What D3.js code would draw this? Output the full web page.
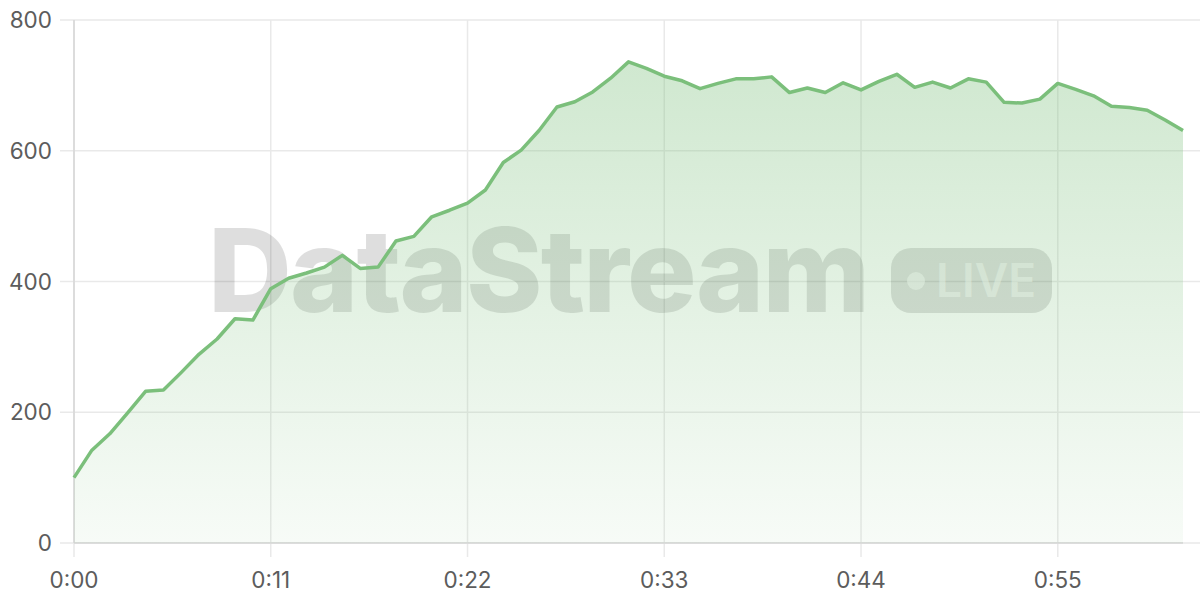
<!DOCTYPE html>
<html lang="en">
<head>
<meta charset="utf-8">
<title>DataStream live</title>
<script src="https://cdn.jsdelivr.net/npm/d3@7"></script>
<style>
    html, body { margin: 0; padding: 0; background: #fff; }
    svg text { font-family: Inter, "Noto Sans", sans-serif; }
</style>
</head>
<body>
<script>
// one sample per second, 0:00 .. 1:02
var values = [100, 142, 167, 199, 232, 234, 261, 289, 312, 343, 341,
    389, 405, 413, 422, 440, 420, 422, 462, 469, 499, 509,
    520, 540, 582, 601, 631, 667, 675, 690, 711, 736, 726,
    714, 707, 695, 703, 710, 710, 713, 689, 696, 689, 704,
    693, 706, 717, 697, 705, 696, 710, 705, 674, 673, 679,
    703, 694, 684, 668, 666, 662, 647, 631];
var seconds = values.map((d, i) => i);
var xTicks = [0, 11, 22, 33, 44, 55];
var yTicks = [0, 200, 400, 600, 800];

var width = 1200, height = 600;
var margin = { top: 20, right: 17, bottom: 57, left: 74 };
var lineColor = "#7bbf7b";

var svg = d3.select("body").append("svg")
    .attr("width", width)
    .attr("height", height);

var x = d3.scaleLinear()
    .domain([0, d3.max(seconds)])
    .range([margin.left, width - margin.right]);
var y = d3.scaleLinear()
    .domain([0, 800])
    .range([height - margin.bottom, margin.top]);

var grad = svg.append("defs").append("linearGradient")
    .attr("id", "fillGrad")
    .attr("x1", 0).attr("x2", 0)
    .attr("gradientUnits", "userSpaceOnUse")
    .attr("y1", y(740)).attr("y2", y(0));
grad.append("stop").attr("offset", "0%").attr("stop-color", lineColor).attr("stop-opacity", 0.36);
grad.append("stop").attr("offset", "100%").attr("stop-color", lineColor).attr("stop-opacity", 0.06);

// horizontal grid
svg.append("g")
    .selectAll("line")
    .data(yTicks)
    .join("line")
    .attr("x1", margin.left - 14)
    .attr("x2", width)
    .attr("y1", d => y(d))
    .attr("y2", d => y(d))
    .attr("stroke", "#e9e9e9")
    .attr("stroke-width", 1.5);

// vertical grid
svg.append("g")
    .selectAll("line")
    .data(xTicks)
    .join("line")
    .attr("x1", d => x(d))
    .attr("x2", d => x(d))
    .attr("y1", margin.top)
    .attr("y2", height - margin.bottom + 14)
    .attr("stroke", "#e9e9e9")
    .attr("stroke-width", 1.5);

// axis lines
svg.append("line")
    .attr("x1", margin.left).attr("x2", margin.left)
    .attr("y1", margin.top).attr("y2", height - margin.bottom)
    .attr("stroke", "#d6d6d6").attr("stroke-width", 1.5);
svg.append("line")
    .attr("x1", margin.left).attr("x2", width - margin.right)
    .attr("y1", height - margin.bottom).attr("y2", height - margin.bottom)
    .attr("stroke", "#d6d6d6").attr("stroke-width", 1.5);

// tick labels
svg.append("g")
    .selectAll("text")
    .data(yTicks)
    .join("text")
    .attr("x", 52)
    .attr("y", d => y(d))
    .attr("dy", "0.36em")
    .attr("text-anchor", "end")
    .attr("font-size", 22.5)
    .attr("fill", "#5c5c5c")
    .text(d => d);

svg.append("g")
    .selectAll("text")
    .data(xTicks)
    .join("text")
    .attr("x", d => x(d))
    .attr("y", 588)
    .attr("text-anchor", "middle")
    .attr("font-size", 22.5)
    .attr("fill", "#5c5c5c")
    .text(d => "0:" + String(d).padStart(2, "0"));

// watermark
var wm = svg.append("g").attr("fill", "rgba(0,0,0,0.13)");
wm.append("text")
    .attr("x", 208)
    .attr("y", 312)
    .attr("font-size", 116)
    .attr("font-weight", 800)
    .attr("textLength", 662)
    .attr("lengthAdjust", "spacing")
    .text("DataStream");
wm.append("rect")
    .attr("x", 891).attr("y", 248)
    .attr("width", 161).attr("height", 65)
    .attr("rx", 20);
wm.append("circle")
    .attr("cx", 916).attr("cy", 281).attr("r", 9)
    .attr("fill", "rgba(255,255,255,0.55)");
wm.append("text")
    .attr("x", 936)
    .attr("y", 297)
    .attr("font-size", 46)
    .attr("font-weight", 600)
    .attr("fill", "rgba(255,255,255,0.55)")
    .text("LIVE");

// area + line
var area = d3.area()
    .x((d, i) => x(seconds[i]))
    .y0(y(0))
    .y1(d => y(d));
var line = d3.line()
    .x((d, i) => x(seconds[i]))
    .y(d => y(d));

svg.append("path")
    .datum(values)
    .attr("d", area)
    .attr("fill", "url(#fillGrad)");

svg.append("path")
    .datum(values)
    .attr("d", line)
    .attr("fill", "none")
    .attr("stroke", lineColor)
    .attr("stroke-width", 3.5)
    .attr("stroke-linejoin", "round");
</script>
</body>
</html>
